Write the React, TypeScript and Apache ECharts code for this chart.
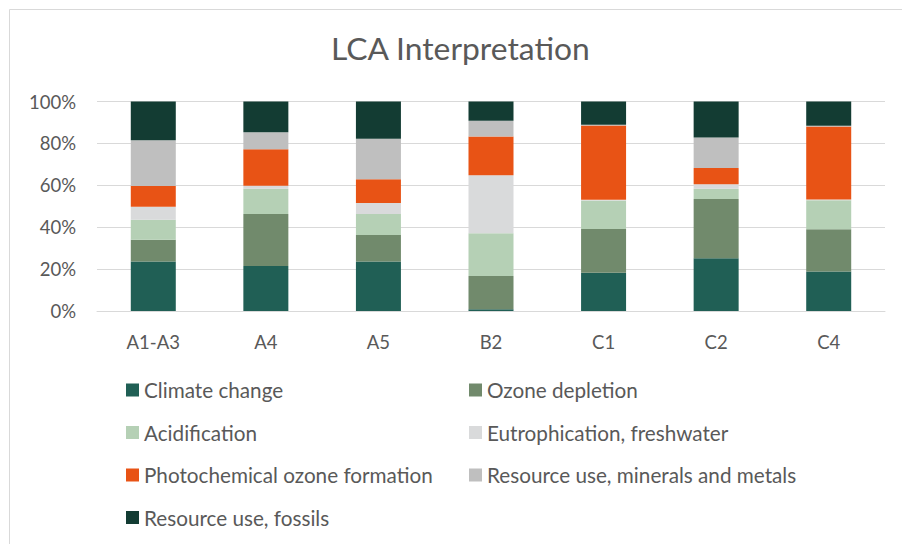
import React, { useEffect, useRef } from "react";
import * as echarts from "echarts";

const categories = ["A1-A3", "A4", "A5", "B2", "C1", "C2", "C4"];
const climateChange = [23.6, 21.5, 23.6, 0.8, 18.2, 25.2, 18.9];
const ozoneDepletion = [10.4, 24.8, 12.7, 15.9, 20.9, 28.3, 20.1];
const acidification = [9.6, 12.1, 10.0, 20.4, 13.7, 4.8, 13.9];
const eutrophication = [6.2, 1.4, 5.3, 27.7, 0.3, 2.2, 0.3];
const photochemical = [9.9, 17.4, 11.3, 18.5, 35.4, 7.8, 34.9];
const minerals = [21.8, 8.1, 19.3, 7.5, 0.4, 14.5, 0.3];
const fossils = [18.5, 14.7, 17.8, 9.2, 11.1, 17.2, 11.6];
const yTicks = [0, 20, 40, 60, 80, 100];

const seriesDefs = [
  { name: "Climate change", data: climateChange, color: "#205F55" },
  { name: "Ozone depletion", data: ozoneDepletion, color: "#718A6C" },
  { name: "Acidification", data: acidification, color: "#B5D0B5" },
  { name: "Eutrophication, freshwater", data: eutrophication, color: "#D9DADB" },
  { name: "Photochemical ozone formation", data: photochemical, color: "#E85315" },
  { name: "Resource use, minerals and metals", data: minerals, color: "#BFBFBF" },
  { name: "Resource use, fossils", data: fossils, color: "#133C33" },
];

const FONT = "Lato";
const GREY = "#595959";

export default function App() {
  const ref = useRef<HTMLDivElement>(null);
  useEffect(() => {
    if (!ref.current) return;
    const chart = echarts.init(ref.current, null, { renderer: "svg" });
    const legendText = {
      fontFamily: FONT,
      fontSize: 20.7,
      color: GREY,
      lineHeight: 22,
    };
    const legendBase = {
      orient: "vertical",
      top: 379,
      padding: 0,
      itemWidth: 13,
      itemHeight: 13,
      itemGap: 20.5,
      icon: "rect",
      textStyle: legendText,
    };
    chart.setOption({
      animation: false,
      backgroundColor: "#ffffff",
      title: {
        text: "LCA Interpretation",
        left: 331,
        top: 32,
        padding: 0,
        textStyle: { fontFamily: FONT, fontSize: 31.8, fontWeight: "normal", color: GREY },
      },
      grid: { left: 97, right: 17, top: 101.5, bottom: 233, containLabel: false },
      xAxis: {
        type: "category",
        data: categories,
        axisLine: { show: true, lineStyle: { color: "#D9D9D9", width: 1 } },
        axisTick: { show: false },
        axisLabel: { fontFamily: FONT, fontSize: 18.5, color: GREY, margin: 21 },
      },
      yAxis: {
        type: "value",
        min: yTicks[0],
        max: yTicks[yTicks.length - 1],
        interval: 20,
        axisLine: { show: false },
        axisTick: { show: false },
        splitLine: { lineStyle: { color: "#D9D9D9", width: 1 } },
        axisLabel: {
          fontFamily: FONT,
          fontSize: 18.5,
          color: GREY,
          margin: 21,
          formatter: (v: number) => `${v}%`,
        },
      },
      legend: [
        {
          ...legendBase,
          left: 126,
          data: [seriesDefs[0].name, seriesDefs[2].name, seriesDefs[4].name, seriesDefs[6].name],
        },
        {
          ...legendBase,
          left: 469,
          data: [seriesDefs[1].name, seriesDefs[3].name, seriesDefs[5].name],
        },
      ],
      graphic: [
        {
          type: "line",
          shape: { x1: 9.5, y1: 9.5, x2: 902, y2: 9.5 },
          style: { stroke: "#D9D9D9", lineWidth: 1 },
          silent: true,
        },
        {
          type: "line",
          shape: { x1: 9.5, y1: 9.5, x2: 9.5, y2: 544 },
          style: { stroke: "#D9D9D9", lineWidth: 1 },
          silent: true,
        },
      ],
      series: seriesDefs.map((s) => ({
        name: s.name,
        type: "bar",
        stack: "total",
        barWidth: 45,
        data: s.data,
        itemStyle: { color: s.color },
      })),
    });
    return () => chart.dispose();
  }, []);
  return (
    <div
      ref={ref}
      style={{ position: "fixed", left: 0, top: 0, width: 902, height: 544 }}
    />
  );
}
